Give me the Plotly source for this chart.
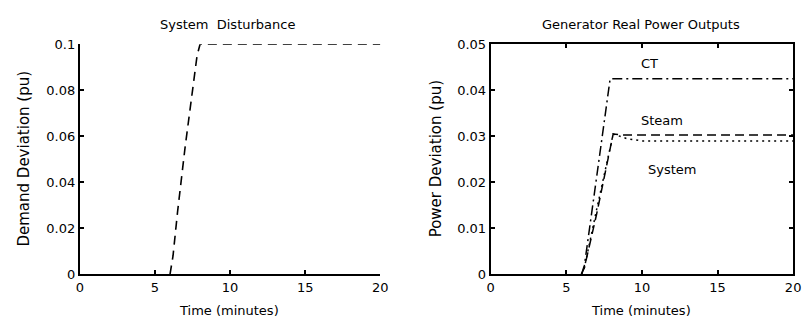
import plotly.graph_objects as go
from plotly.subplots import make_subplots

# Time base (minutes) and responses (pu); every signal sits at zero before t = 6
t_demand = [6.0, 6.2, 6.5, 7.0, 7.5, 7.8, 8.0, 20]
demand = [0, 0.008, 0.027, 0.055, 0.080, 0.095, 0.1, 0.1]

t_ct = [6.0, 6.2, 7.0, 7.9, 20]
ct = [0, 0.002, 0.021, 0.0425, 0.0425]

t_steam = [6.0, 6.2, 7.0, 8.1, 8.6, 20]
steam = [0, 0.0015, 0.013, 0.0305, 0.0303, 0.0303]

t_system = [6.0, 6.2, 7.0, 8.1, 9.0, 10.0, 20]
system = [0, 0.0015, 0.014, 0.0305, 0.0295, 0.029, 0.029]

x_ticks = [0, 5, 10, 15, 20]
left_y_ticks = [0, 0.02, 0.04, 0.06, 0.08, 0.1]
left_y_labels = ["0", "0.02", "0.04", "0.06", "0.08", "0.1"]
right_y_ticks = [0, 0.01, 0.02, 0.03, 0.04, 0.05]
right_y_labels = ["0", "0.01", "0.02", "0.03", "0.04", "0.05"]

FONT = "DejaVu Sans"

fig = make_subplots(rows=1, cols=2)

fig.add_trace(go.Scatter(x=t_demand, y=demand, mode="lines",
                         line=dict(color="black", width=1.6, dash="9px,6px")),
              row=1, col=1)
fig.add_trace(go.Scatter(x=t_ct, y=ct, mode="lines",
                         line=dict(color="black", width=1.5, dash="10px,4px,2px,4px")),
              row=1, col=2)
fig.add_trace(go.Scatter(x=t_steam, y=steam, mode="lines",
                         line=dict(color="black", width=1.5, dash="9px,5px")),
              row=1, col=2)
fig.add_trace(go.Scatter(x=t_system, y=system, mode="lines",
                         line=dict(color="black", width=1.5, dash="2px,4px")),
              row=1, col=2)

ydom = [1 - 280 / 333, 1 - 39 / 333]
axis_common = dict(showline=True, linecolor="black", linewidth=2,
                   ticks="inside", ticklen=4, tickwidth=2, tickcolor="black",
                   showgrid=False, zeroline=False,
                   tickfont=dict(family=FONT, size=13, color="black"))

fig.update_xaxes(domain=[77 / 810, 382 / 810], range=[0, 20], tickvals=x_ticks,
                 mirror=False, **axis_common, row=1, col=1)
fig.update_yaxes(domain=ydom, range=[0, 0.1], tickvals=left_y_ticks,
                 ticktext=left_y_labels, mirror=False, **axis_common, row=1, col=1)
fig.update_xaxes(domain=[494 / 810, 801 / 810], range=[0, 20], tickvals=x_ticks,
                 mirror="ticks", **axis_common, row=1, col=2)
fig.update_yaxes(domain=ydom, range=[0, 0.05], tickvals=right_y_ticks,
                 ticktext=right_y_labels, mirror="ticks", **axis_common, row=1, col=2)

text_font = dict(family=FONT, size=13, color="black")
label_font = dict(family=FONT, size=15, color="black")

annotations = [
    dict(text="System  Disturbance", x=227 / 810, y=1 - 18 / 333, font=text_font),
    dict(text="Generator Real Power Outputs", x=647 / 810, y=1 - 18 / 333, font=text_font),
    dict(text="Time (minutes)", x=228 / 810, y=1 - 318 / 333, font=text_font),
    dict(text="Time (minutes)", x=647 / 810, y=1 - 318 / 333, font=text_font),
    dict(text="Demand Deviation (pu)", x=20 / 810, y=1 - 159 / 333, font=label_font,
         textangle=-90),
    dict(text="Power Deviation (pu)", x=438 / 810, y=1 - 159 / 333, font=label_font,
         textangle=-90),
]
for a in annotations:
    fig.add_annotation(xref="paper", yref="paper", showarrow=False,
                       xanchor="center", yanchor="middle", **a)

# Series labels inside the right panel
for txt, x, y in [("CT", 10.5, 0.0458), ("Steam", 11.3, 0.0335), ("System", 12.0, 0.0228)]:
    fig.add_annotation(x=x, y=y, xref="x2", yref="y2", text=txt, showarrow=False,
                       xanchor="center", yanchor="middle", font=text_font)

fig.update_layout(width=810, height=333, margin=dict(l=0, r=0, t=0, b=0),
                  paper_bgcolor="white", plot_bgcolor="white", showlegend=False)

fig.write_html("out.html")
